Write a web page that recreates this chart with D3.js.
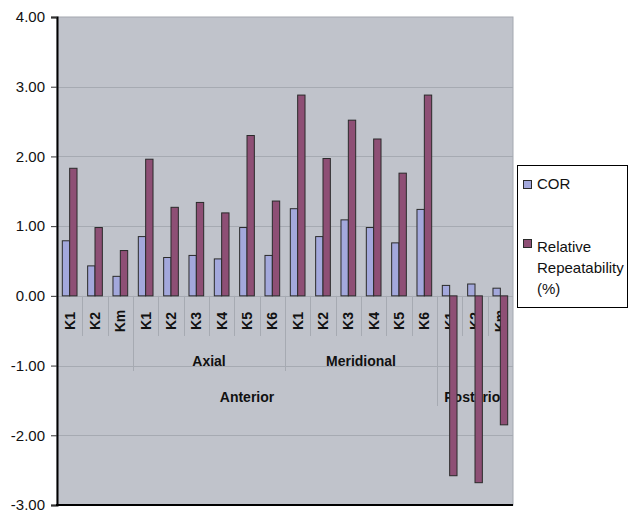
<!DOCTYPE html>
<html>
<head>
<meta charset="utf-8">
<script src="https://cdn.jsdelivr.net/npm/d3@7"></script>
<style>
  html, body { margin: 0; padding: 0; background: #ffffff; }
  svg { display: block; font-family: Arial, "Liberation Sans", sans-serif; }
</style>
</head>
<body>
<svg id="chart" width="628" height="513"></svg>
<script>
// ---- data ----
const categories = ["K1","K2","Km","K1","K2","K3","K4","K5","K6","K1","K2","K3","K4","K5","K6","K1","K2","Km"];
const corValues = [0.79,0.43,0.28,0.85,0.55,0.58,0.53,0.98,0.58,1.25,0.85,1.09,0.98,0.76,1.24,0.15,0.17,0.11];
const relValues = [1.83,0.98,0.65,1.96,1.27,1.34,1.19,2.30,1.36,2.88,1.97,2.52,2.25,1.76,2.88,-2.58,-2.68,-1.85];
const seriesNames = ["COR","Relative Repeatability (%)"];
const subGroupLabels = ["", "Axial", "Meridional", ""];
const subGroupSizes = [3, 6, 6, 3];
const groupLabels = ["Anterior", "Posterior"];
const groupSizes = [15, 3];
const yTicks = [-3, -2, -1, 0, 1, 2, 3, 4];

// ---- layout ----
const svg = d3.select("#chart");
const pLeft = 57, pRight = 513, pTop = 17, pBottom = 505;
const colors = ["#a3a8dc", "#8e4f75"];

const x = d3.scaleBand().domain(d3.range(categories.length)).range([pLeft, pRight]).padding(0);
const y = d3.scaleLinear().domain([-3, 4]).range([pBottom, pTop]);
const inner = d3.scaleBand().domain([0, 1]).range([x.bandwidth() * 0.21, x.bandwidth() * 0.79]).padding(0);

// plot background
svg.append("rect").attr("x", pLeft).attr("y", pTop).attr("width", pRight - pLeft).attr("height", pBottom - pTop)
  .attr("fill", "#c0c3cb").attr("stroke", "#a4a8b0").attr("stroke-width", 1);

// gridlines
svg.append("g").selectAll("line").data(yTicks.filter(t => t > -3 && t < 4)).join("line")
  .attr("x1", pLeft).attr("x2", pRight)
  .attr("y1", d => Math.round(y(d)) + 0.5).attr("y2", d => Math.round(y(d)) + 0.5)
  .attr("stroke", "#a6aab2").attr("stroke-width", 1);

// category separators (multi-level)
function cumulative(sizes) { const out = []; let s = 0; sizes.forEach(v => { s += v; out.push(s); }); return out; }
const subBounds = cumulative(subGroupSizes);
const groupBounds = cumulative(groupSizes);
const sepData = d3.range(1, categories.length).map(i => {
  let depth = 336;
  if (subBounds.includes(i)) depth = 371;
  if (groupBounds.includes(i)) depth = 406;
  return { i, depth };
});
svg.append("g").selectAll("line").data(sepData).join("line")
  .attr("x1", d => Math.round(x(d.i)) + 0.5).attr("x2", d => Math.round(x(d.i)) + 0.5)
  .attr("y1", y(0)).attr("y2", d => d.depth)
  .attr("stroke", "#a6aab2").attr("stroke-width", 1);

// level-1 labels (rotated)
svg.append("g").selectAll("text").data(categories).join("text")
  .attr("transform", (d, i) => `translate(${x(i) + x.bandwidth() / 2 + 5},321) rotate(-90)`)
  .attr("text-anchor", "middle")
  .attr("font-size", 14).attr("font-weight", "bold").attr("fill", "#111")
  .text(d => d);

// level-2 labels
let start = 0;
const subData = subGroupLabels.map((lab, k) => { const o = { lab, s: start, e: start + subGroupSizes[k] }; start += subGroupSizes[k]; return o; });
svg.append("g").selectAll("text").data(subData.filter(d => d.lab)).join("text")
  .attr("x", d => (x(d.s) + x(d.e - 1) + x.bandwidth()) / 2)
  .attr("y", 366)
  .attr("text-anchor", "middle").attr("font-size", 14).attr("font-weight", "bold").attr("fill", "#111")
  .text(d => d.lab);

// level-3 labels
start = 0;
const grpData = groupLabels.map((lab, k) => { const o = { lab, s: start, e: start + groupSizes[k] }; start += groupSizes[k]; return o; });
svg.append("g").selectAll("text").data(grpData).join("text")
  .attr("x", d => (x(d.s) + x(d.e - 1) + x.bandwidth()) / 2)
  .attr("y", 402)
  .attr("text-anchor", "middle").attr("font-size", 14).attr("font-weight", "bold").attr("fill", "#111")
  .text(d => d.lab);

// bars
const seriesValues = [corValues, relValues];
seriesValues.forEach((vals, s) => {
  svg.append("g").selectAll("rect").data(vals).join("rect")
    .attr("x", (d, i) => x(i) + inner(s))
    .attr("width", inner.bandwidth())
    .attr("y", d => y(Math.max(0, d)))
    .attr("height", d => Math.abs(y(d) - y(0)))
    .attr("fill", colors[s]).attr("stroke", "#2a2a2a").attr("stroke-width", 1);
});

// y axis
const yAxis = d3.axisLeft(y).tickValues(yTicks).tickFormat(d => d.toFixed(2)).tickSize(6).tickPadding(6);
const ya = svg.append("g").attr("transform", `translate(${pLeft},0)`).call(yAxis);
ya.select(".domain").attr("stroke", "#000").attr("stroke-width", 2);
ya.selectAll(".tick line").attr("stroke", "#333");
ya.selectAll(".tick text").attr("font-size", 15).attr("fill", "#111").attr("font-family", "Arial, 'Liberation Sans', sans-serif");

// bottom black line
svg.append("line").attr("x1", pLeft - 1).attr("x2", pRight).attr("y1", pBottom).attr("y2", pBottom)
  .attr("stroke", "#000").attr("stroke-width", 2);

// legend
const lg = svg.append("g");
lg.append("rect").attr("x", 517.5).attr("y", 165.5).attr("width", 110).attr("height", 142)
  .attr("fill", "#fff").attr("stroke", "#000").attr("stroke-width", 1);
const legendItems = [
  { lines: ["COR"], sy: 180, ty: 189 },
  { lines: ["Relative", "Repeatability", "(%)"], sy: 239, ty: 252 }
];
legendItems.forEach((it, s) => {
  lg.append("rect").attr("x", 523.5).attr("y", it.sy + 0.5).attr("width", 8).attr("height", 8)
    .attr("fill", colors[s]).attr("stroke", "#2a2a2a").attr("stroke-width", 1);
  const t = lg.append("text").attr("x", 537).attr("y", it.ty).attr("font-size", 15).attr("fill", "#111");
  it.lines.forEach((ln, j) => {
    t.append("tspan").attr("x", 537).attr("dy", j === 0 ? 0 : 21).text(ln);
  });
});
</script>
</body>
</html>
